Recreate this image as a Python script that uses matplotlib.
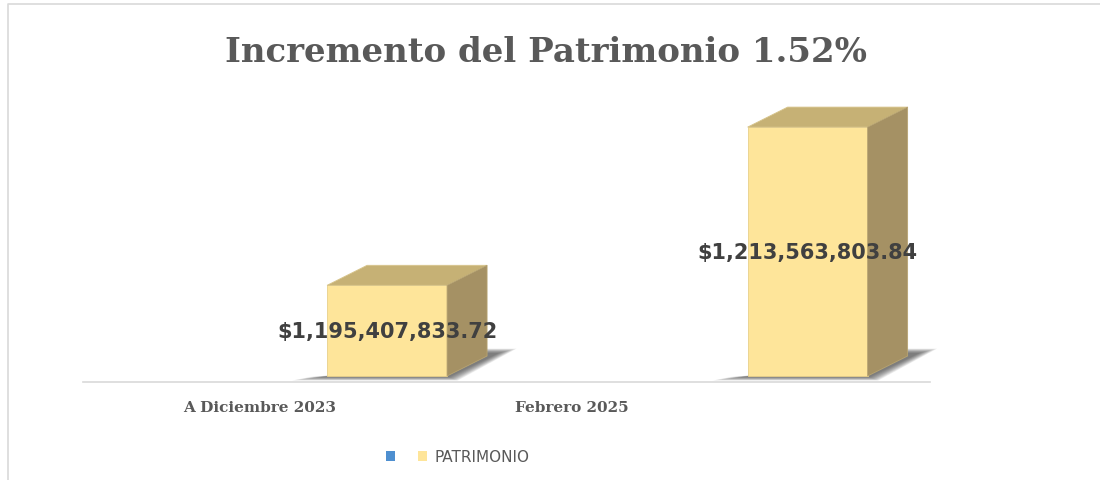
import numpy as np
import matplotlib.pyplot as plt
from matplotlib.patches import Polygon, Patch
from matplotlib.lines import Line2D

# Datos
categorias = ['A Diciembre 2023', 'Febrero 2025']
patrimonio = [1195407833.72, 1213563803.84]
titulo = 'Incremento del Patrimonio 1.52%'
serie = 'PATRIMONIO'

# Eje de valores como en Excel (no empieza en cero)
eje_min = 1.185e9
eje_max = 1.22e9

# Colores
frente = '#FEE59A'
techo = '#C6B175'
lado = '#A59164'
gris = '#595959'

fig = plt.figure(figsize=(11, 4.81), dpi=100)
W, H = 1100, 481

# marco del gráfico (solo arriba e izquierda visibles)
fig.lines.append(Line2D([8 / W, 8 / W, 1.01], [0, 1 - 5 / H, 1 - 5 / H], transform=fig.transFigure,
                        color='#D9D9D9', lw=1.2))

ax = fig.add_axes([83 / W, (H - 383) / H, (930 - 83) / W, (383 - 72) / H])
x = np.arange(len(categorias))
xlim = (-0.723, 1.291)
ylim = (eje_min - 6 * (eje_max - eje_min) / 305, eje_max)
ax.set_xlim(xlim)
ax.set_ylim(ylim)

# conversión de píxeles a unidades de datos
px_x = (xlim[1] - xlim[0]) / (930 - 83)
px_y = (ylim[1] - ylim[0]) / (383 - 72)
ancho = 120 * px_x
dx, dy = 40 * px_x, 20 * px_y

for xi, v in zip(x, patrimonio):
    x0, x1 = xi - ancho / 2, xi + ancho / 2
    # sombra difusa sobre el piso
    for k in range(12):
        e = (11 - k) * 1.6
        pts = [(x0 - (18 + e) * px_x, eje_min - (1 + e / 5) * px_y),
               (x1 + (2 + e / 2) * px_x, eje_min - (1 + e / 5) * px_y),
               (x1 + dx + (12 + e) * px_x, eje_min + dy + (3 + e / 4) * px_y),
               (x1 + dx - 10 * px_x, eje_min + dy + (3 + e / 4) * px_y),
               (x0 + 20 * px_x, eje_min + 2 * px_y)]
        ax.add_patch(Polygon(pts, closed=True, facecolor='#303030', alpha=0.075, lw=0,
                             zorder=1, clip_on=False))
    # cara frontal
    ax.bar(xi, v - eje_min, bottom=eje_min, width=ancho, color=frente, edgecolor='#E8D08A',
           lw=0.6, zorder=3)
    # techo
    ax.add_patch(Polygon([(x0, v), (x1, v), (x1 + dx, v + dy), (x0 + dx, v + dy)],
                         closed=True, facecolor=techo, edgecolor='#D8C58C', lw=0.6, zorder=3))
    # lado derecho
    ax.add_patch(Polygon([(x1, eje_min), (x1 + dx, eje_min + dy), (x1 + dx, v + dy), (x1, v)],
                         closed=True, facecolor=lado, edgecolor='#B8A472', lw=0.6, zorder=3))
    # etiqueta de valor
    ax.text(xi, (eje_min + v) / 2, '${:,.2f}'.format(v), ha='center', va='center',
            fontsize=15, fontweight='bold', color='#404040', family='DejaVu Sans', zorder=5)

for s in ['top', 'left', 'right']:
    ax.spines[s].set_visible(False)
ax.spines['bottom'].set_color('#D9D9D9')
ax.spines['bottom'].set_linewidth(1.2)
ax.spines['bottom'].set_zorder(0.5)
ax.set_yticks([])
# posición de etiquetas de categoría (perspectiva 3D)
ax.set_xticks([-0.304, 0.44])
ax.set_xticklabels(categorias, fontsize=11, fontweight='bold', color=gris, family='DejaVu Serif')
ax.tick_params(axis='x', length=0, pad=13)
ax.set_facecolor('none')

fig.text(546 / W, 1 - 53 / H, titulo, ha='center', va='center', fontsize=24.5,
         fontweight='bold', color=gris, family='DejaVu Serif')

handles = [Patch(facecolor='#4E8FD0'), Patch(facecolor=frente)]
fig.legend(handles, ['', serie], loc='center', bbox_to_anchor=(458 / W, 1 - 458 / H), ncol=2,
           frameon=False, handlelength=0.6, handleheight=0.6, handletextpad=0.5,
           columnspacing=1.0, prop={'size': 11}, labelcolor=gris)

fig.savefig('out.png', dpi=100)
